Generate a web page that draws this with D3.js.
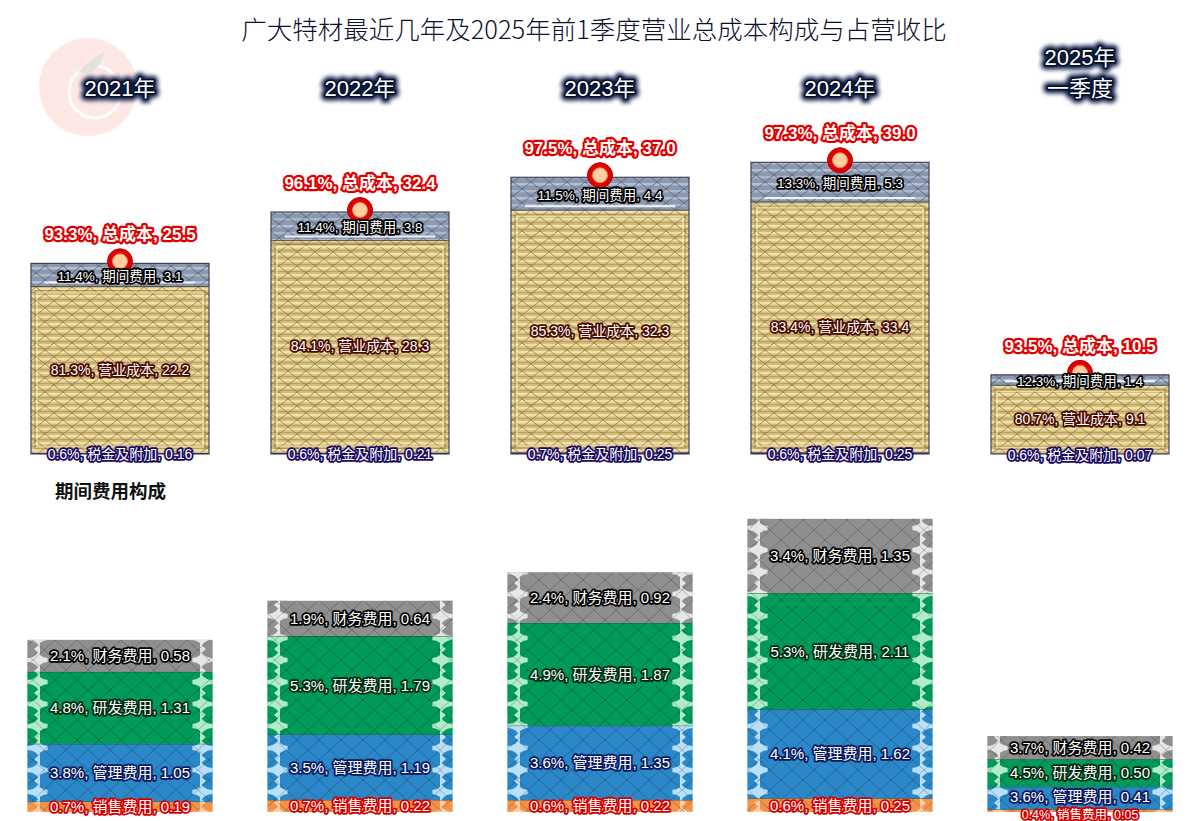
<!DOCTYPE html>
<html><head><meta charset="utf-8">
<script src="https://cdn.jsdelivr.net/npm/d3@7"></script>
<style>
html,body{margin:0;padding:0;background:#fff;}
svg{display:block;}
text{font-family:"Liberation Sans","Noto Sans CJK SC",sans-serif;}
</style></head>
<body><svg id="chart" width="1200" height="821"></svg>
<script>
// ---- data ----
const categories = ["2021年","2022年","2023年","2024年","2025年\n一季度"];
const taxVals   = [0.16,0.21,0.25,0.25,0.07];
const taxPct    = [0.6,0.6,0.7,0.6,0.6];
const opVals    = [22.2,28.3,32.3,33.4,9.1];
const opPct     = [81.3,84.1,85.3,83.4,80.7];
const periodVals= [3.1,3.8,4.4,5.3,1.4];
const periodPct = [11.4,11.4,11.5,13.3,12.3];
const totalVals = [25.5,32.4,37.0,39.0,10.5];
const totalPct  = [93.3,96.1,97.5,97.3,93.5];
const salesVals = [0.19,0.22,0.22,0.25,0.05];
const salesPct  = [0.7,0.7,0.6,0.6,0.4];
const adminVals = [1.05,1.19,1.35,1.62,0.41];
const adminPct  = [3.8,3.5,3.6,4.1,3.6];
const rdVals    = [1.31,1.79,1.87,2.11,0.50];
const rdPct     = [4.8,5.3,4.9,5.3,4.5];
const finVals   = [0.58,0.64,0.92,1.35,0.42];
const finPct    = [2.1,1.9,2.4,3.4,3.7];
const titleText = "广大特材最近几年及2025年前1季度营业总成本构成与占营收比";
const subTitle  = "期间费用构成";

const svg = d3.select("#chart");
const defs = svg.append("defs");

// ---- patterns ----
function lattice(p, w, h, color, sw){
  p.append("path").attr("d",`M0,${h/2} L${w/2},0 L${w},${h/2} L${w/2},${h} Z`)
   .attr("fill","none").attr("stroke",color).attr("stroke-width",sw);
}
{
  const p = defs.append("pattern").attr("id","gold").attr("patternUnits","userSpaceOnUse")
    .attr("width",18).attr("height",14);
  p.append("rect").attr("width",18).attr("height",14).attr("fill","#d6bf7e");
  p.append("rect").attr("y",1).attr("width",18).attr("height",2.5).attr("fill","#f1e2a8");
  p.append("rect").attr("y",8).attr("width",18).attr("height",2.5).attr("fill","#efdfa2");
  p.append("rect").attr("y",5).attr("width",18).attr("height",1.2).attr("fill","#b9a263");
  p.append("rect").attr("y",12).attr("width",18).attr("height",1.2).attr("fill","#b9a263");
  lattice(p,18,14,"#8e7a44",0.8);
}
{
  const p = defs.append("pattern").attr("id","greyblue").attr("patternUnits","userSpaceOnUse")
    .attr("width",18).attr("height",14);
  p.append("rect").attr("width",18).attr("height",14).attr("fill","#8a98b0");
  p.append("rect").attr("y",1).attr("width",18).attr("height",2.5).attr("fill","#b4c0d2");
  p.append("rect").attr("y",8).attr("width",18).attr("height",2.5).attr("fill","#aab6ca");
  lattice(p,18,14,"#56637c",0.8);
}
{
  const p = defs.append("pattern").attr("id","lat").attr("patternUnits","userSpaceOnUse")
    .attr("width",22).attr("height",20);
  lattice(p,22,20,"rgba(0,0,0,0.22)",1);
}
const segColors = {
  sales:{base:"#f5924a", light:"#ffd0a8"},
  admin:{base:"#2b87c8", light:"#b8e0fa"},
  rd:{base:"#009a5a", light:"#b0ecc8"},
  fin:{base:"#8f8f8f", light:"#e6e6e6"}
};
Object.entries(segColors).forEach(([k,c])=>{
  ["L","R"].forEach(side=>{
    const p = defs.append("pattern").attr("id","edge"+k+side).attr("patternUnits","userSpaceOnUse")
      .attr("width",20).attr("height",22);
    p.append("rect").attr("width",20).attr("height",22).attr("fill",c.light);
    p.append("ellipse").attr("cx",side==="L"?8:12).attr("cy",11).attr("rx",11).attr("ry",9).attr("fill",c.base);
    p.append("path").attr("d", side==="L" ? "M20,6 L14,11 L20,16 Z" : "M0,6 L6,11 L0,16 Z").attr("fill",c.light);
  });
});
{
  const f = defs.append("filter").attr("id","glow").attr("x","-20%").attr("y","-40%").attr("width","140%").attr("height","180%");
  f.append("feGaussianBlur").attr("stdDeviation",2.2);
}

// ---- watermark ----
const wm = svg.append("g").attr("opacity",0.9);
wm.append("circle").attr("cx",88).attr("cy",87).attr("r",49).attr("fill","#fde6e3");
wm.append("circle").attr("cx",95).attr("cy",92).attr("r",26).attr("fill","none").attr("stroke","#fff").attr("stroke-width",3);
wm.append("path").attr("d","M78,72 Q92,58 104,52 Q102,66 90,74 Z").attr("fill","#e2dede");
wm.append("circle").attr("cx",92).attr("cy",90).attr("r",10).attr("fill","#f6e0c8");

// ---- title ----
svg.append("text").attr("x",594).attr("y",39).attr("text-anchor","middle")
  .attr("font-size",25.5).attr("fill","#0a1030")
  .style("font-family","'Noto Sans CJK SC',sans-serif").style("font-weight",300)
  .text(titleText);

// ---- scales ----
const xTop = d3.scaleBand().domain(categories).range([0,1200]).paddingInner(0.258).paddingOuter(0.129);
const xBot = d3.scaleBand().domain(categories).range([0,1200]).paddingInner(0.23).paddingOuter(0.115);
const yTop = d3.scaleLinear().domain([0,40]).range([454,454-7.49*40]);
const yBot = d3.scaleLinear().domain([0,6]).range([812,812-55*6]);

function haloText(g, x, y, txt, size, stroke, sw, weight){
  g.append("text").attr("x",x).attr("y",y).attr("dy","0.36em").attr("text-anchor","middle")
   .attr("font-size",size).attr("font-weight",weight||"normal")
   .attr("fill","#fff").attr("stroke",stroke).attr("stroke-width",sw)
   .attr("stroke-linejoin","round").attr("paint-order","stroke").text(txt);
}

// ---- top chart ----
const gTop = svg.append("g");
const gTopLabels = svg.append("g");
categories.forEach((c,i)=>{
  const x = xTop(c), w = xTop.bandwidth();
  const y0 = yTop(0), y1 = yTop(taxVals[i]), y2 = yTop(taxVals[i]+opVals[i]), y3 = yTop(taxVals[i]+opVals[i]+periodVals[i]);
  gTop.append("rect").attr("x",x).attr("y",y1).attr("width",w).attr("height",y0-y1).attr("fill","#4a3b80");
  gTop.append("rect").attr("x",x).attr("y",y2).attr("width",w).attr("height",y1-y2).attr("fill","url(#gold)");
  gTop.append("rect").attr("x",x+6).attr("y",y2+6).attr("width",w-12).attr("height",Math.max(0,y1-y2-12))
     .attr("fill","none").attr("stroke","#fff3c8").attr("stroke-opacity",0.6).attr("stroke-width",1.5);
  gTop.append("rect").attr("x",x+4).attr("y",y2+4).attr("width",w-8).attr("height",Math.max(0,y1-y2-8))
     .attr("fill","none").attr("stroke","#7d6a38").attr("stroke-opacity",0.5).attr("stroke-width",1);
  gTop.append("rect").attr("x",x).attr("y",y3).attr("width",w).attr("height",y2-y3).attr("fill","url(#greyblue)");
  gTop.append("line").attr("x1",x+14).attr("x2",x+w-14).attr("y1",y2-4).attr("y2",y2-4)
     .attr("stroke","#fff").attr("stroke-width",2).attr("stroke-opacity",0.85);
  gTop.append("rect").attr("x",x).attr("y",y3).attr("width",w).attr("height",y0-y3)
     .attr("fill","none").attr("stroke","#2a2a3a").attr("stroke-width",1);
  gTop.append("line").attr("x1",x).attr("x2",x+w).attr("y1",y2).attr("y2",y2).attr("stroke","#3a3a3a").attr("stroke-width",0.8);

  const cx = x + w/2;
  gTop.append("circle").attr("cx",cx).attr("cy",y3-2).attr("r",12.5).attr("fill","#e00000").attr("stroke","#b00000");
  gTop.append("circle").attr("cx",cx).attr("cy",y3-2).attr("r",7.5).attr("fill","#ffcfa0").attr("stroke","#f08060").attr("stroke-width",1);

  haloText(gTopLabels, cx, (y2+y3)/2+1, `${periodPct[i]}%, 期间费用, ${periodVals[i]}`, 13.5, "#000", 3.5);
  haloText(gTopLabels, cx, (y1+y2)/2, `${opPct[i]}%, 营业成本, ${opVals[i]}`, 14, "#4a0a00", 3.5);
  haloText(gTopLabels, cx, (y0+y1)/2+1, `${taxPct[i]}%, 税金及附加, ${taxVals[i]}`, 14, "#1a0a60", 3.5);
  haloText(gTopLabels, cx, y3-29, `${totalPct[i]}%, 总成本, ${totalVals[i].toFixed(1)}`, 17, "#e00000", 4.5, "bold");

  const lines = c.split("\n");
  const baseY = lines.length===1 ? 88 : 57;
  lines.forEach((t,j)=>{
    const yy = baseY + j*31;
    gTopLabels.append("text").attr("x",cx).attr("y",yy).attr("dy","0.36em").attr("text-anchor","middle")
      .attr("font-size",22).attr("fill","#0d1d45").attr("stroke","#0d1d45").attr("stroke-width",9)
      .attr("stroke-linejoin","round").attr("filter","url(#glow)").text(t);
    gTopLabels.append("text").attr("x",cx).attr("y",yy).attr("dy","0.36em").attr("text-anchor","middle")
      .attr("font-size",22).attr("fill","#fff").attr("stroke","#06102a").attr("stroke-width",3)
      .attr("stroke-linejoin","round").attr("paint-order","stroke").text(t);
  });
});

// ---- subtitle ----
svg.append("text").attr("x",55).attr("y",498).attr("font-size",18.5).attr("font-weight","bold")
  .attr("fill","#111").style("font-family","'Noto Sans CJK SC',sans-serif").text(subTitle);

// ---- bottom chart ----
const gBot = svg.append("g");
const segs = [
  {key:"sales", vals:salesVals, pct:salesPct, name:"销售费用", stroke:"#d00000"},
  {key:"admin", vals:adminVals, pct:adminPct, name:"管理费用", stroke:"#0a1a60"},
  {key:"rd",    vals:rdVals,    pct:rdPct,    name:"研发费用", stroke:"#002a10"},
  {key:"fin",   vals:finVals,   pct:finPct,   name:"财务费用", stroke:"#000"}
];
const labels = [];
categories.forEach((c,i)=>{
  const x = xBot(c), w = xBot.bandwidth();
  let cum = 0;
  const catLabels = [];
  segs.forEach(s=>{
    const v = s.vals[i];
    const yb = yBot(cum), yt = yBot(cum+v);
    const col = segColors[s.key];
    gBot.append("rect").attr("x",x).attr("y",yt).attr("width",w).attr("height",yb-yt).attr("fill",col.base);
    gBot.append("rect").attr("x",x).attr("y",yt).attr("width",20).attr("height",yb-yt).attr("fill",`url(#edge${s.key}L)`);
    gBot.append("rect").attr("x",x+w-20).attr("y",yt).attr("width",20).attr("height",yb-yt).attr("fill",`url(#edge${s.key}R)`);
    gBot.append("rect").attr("x",x).attr("y",yt).attr("width",w).attr("height",yb-yt).attr("fill","url(#lat)");
    if (s.key!=="fin") gBot.append("line").attr("x1",x).attr("x2",x+w).attr("y1",yt).attr("y2",yt).attr("stroke","#1e3a2a").attr("stroke-width",0.8);
    catLabels.push({x:x+w/2, y:(yb+yt)/2, size:15, txt:`${s.pct[i]}%, ${s.name}, ${v.toFixed(2)}`, stroke:s.stroke});
    cum += v;
  });
  // nudge crowded labels apart (tiny bottom segments)
  if (catLabels[0].y - catLabels[1].y < 16) {
    catLabels[0].y = 814; catLabels[0].size = 12.5;
    catLabels[1].y = Math.min(catLabels[1].y, 797);
  }
  labels.push(...catLabels);
});
labels.forEach(l=>haloText(gBot, l.x, l.y, l.txt, l.size, l.stroke, 3.5));
</script></body></html>
